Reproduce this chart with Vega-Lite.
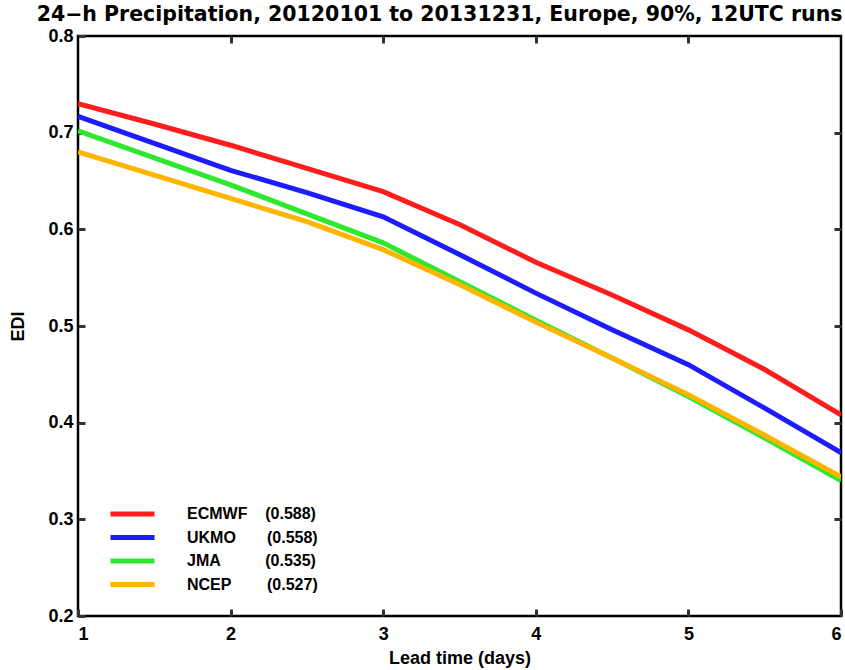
{
  "$schema": "https://vega.github.io/schema/vega-lite/v6.json",
  "autosize": "none",
  "width": 763,
  "height": 580,
  "padding": {"left": 78, "top": 36, "right": 4, "bottom": 54},
  "background": "white",
  "title": {"text": "24\u2212h Precipitation, 20120101 to 20131231, Europe, 90%, 12UTC runs", "anchor": "end", "font": "DejaVu Sans", "fontSize": 20.5, "fontWeight": "bold", "offset": 8, "dy": 6, "color": "black"},
  "config": {
    "view": {"stroke": "black", "strokeWidth": 2.5},
    "axis": {"labelFont": "Liberation Sans", "labelFontWeight": "bold", "labelFontSize": 18, "labelColor": "black", "titleFont": "Liberation Sans", "titleFontWeight": "bold", "titleFontSize": 18, "titleColor": "black", "domain": false, "grid": false, "ticks": true, "tickColor": "#333333", "tickWidth": 3, "tickSize": 7, "offset": -7}
  },
  "resolve": {"axis": {"x": "independent", "y": "independent"}},
  "data": {"values": [
    {"model": "ECMWF", "day": 1, "edi": 0.730},
    {"model": "ECMWF", "day": 1.5, "edi": 0.709},
    {"model": "ECMWF", "day": 2, "edi": 0.687},
    {"model": "ECMWF", "day": 2.5, "edi": 0.663},
    {"model": "ECMWF", "day": 3, "edi": 0.639},
    {"model": "ECMWF", "day": 3.5, "edi": 0.605},
    {"model": "ECMWF", "day": 4, "edi": 0.566},
    {"model": "ECMWF", "day": 4.5, "edi": 0.532},
    {"model": "ECMWF", "day": 5, "edi": 0.496},
    {"model": "ECMWF", "day": 5.5, "edi": 0.455},
    {"model": "ECMWF", "day": 6, "edi": 0.408},
    {"model": "UKMO", "day": 1, "edi": 0.717},
    {"model": "UKMO", "day": 1.5, "edi": 0.689},
    {"model": "UKMO", "day": 2, "edi": 0.661},
    {"model": "UKMO", "day": 2.5, "edi": 0.638},
    {"model": "UKMO", "day": 3, "edi": 0.613},
    {"model": "UKMO", "day": 3.5, "edi": 0.574},
    {"model": "UKMO", "day": 4, "edi": 0.534},
    {"model": "UKMO", "day": 4.5, "edi": 0.496},
    {"model": "UKMO", "day": 5, "edi": 0.460},
    {"model": "UKMO", "day": 5.5, "edi": 0.415},
    {"model": "UKMO", "day": 6, "edi": 0.369},
    {"model": "JMA", "day": 1, "edi": 0.702},
    {"model": "JMA", "day": 1.5, "edi": 0.674},
    {"model": "JMA", "day": 2, "edi": 0.646},
    {"model": "JMA", "day": 2.5, "edi": 0.616},
    {"model": "JMA", "day": 3, "edi": 0.586},
    {"model": "JMA", "day": 3.5, "edi": 0.546},
    {"model": "JMA", "day": 4, "edi": 0.506},
    {"model": "JMA", "day": 4.5, "edi": 0.467},
    {"model": "JMA", "day": 5, "edi": 0.427},
    {"model": "JMA", "day": 5.5, "edi": 0.384},
    {"model": "JMA", "day": 6, "edi": 0.340},
    {"model": "NCEP", "day": 1, "edi": 0.680},
    {"model": "NCEP", "day": 1.5, "edi": 0.656},
    {"model": "NCEP", "day": 2, "edi": 0.632},
    {"model": "NCEP", "day": 2.5, "edi": 0.608},
    {"model": "NCEP", "day": 3, "edi": 0.579},
    {"model": "NCEP", "day": 3.5, "edi": 0.543},
    {"model": "NCEP", "day": 4, "edi": 0.504},
    {"model": "NCEP", "day": 4.5, "edi": 0.467},
    {"model": "NCEP", "day": 5, "edi": 0.429},
    {"model": "NCEP", "day": 5.5, "edi": 0.387},
    {"model": "NCEP", "day": 6, "edi": 0.344}
  ]},
  "layer": [
    {
      "mark": {"type": "line", "strokeWidth": 5, "clip": true},
      "encoding": {
        "x": {"field": "day", "type": "quantitative", "scale": {"domain": [1, 6], "nice": false, "zero": false}, "axis": {"orient": "bottom", "values": [1, 2, 3, 4, 5, 6], "title": "Lead time (days)", "labelPadding": 9, "titlePadding": 6, "format": "d"}},
        "y": {"field": "edi", "type": "quantitative", "scale": {"domain": [0.2, 0.8], "nice": false, "zero": false}, "axis": {"orient": "left", "values": [0.2, 0.3, 0.4, 0.5, 0.6, 0.7, 0.8], "format": ".1f", "title": "EDI", "labelPadding": 5, "titlePadding": 20}},
        "color": {"field": "model", "type": "nominal",
          "scale": {"domain": ["ECMWF", "UKMO", "JMA", "NCEP"], "range": ["#ff1c1c", "#1c1cff", "#2ee82e", "#ffb400"]},
          "legend": {"orient": "none", "legendX": 30, "legendY": 468, "title": null, "symbolType": "stroke", "symbolSize": 1936, "symbolStrokeWidth": 5, "clipHeight": 20, "rowPadding": 3.5, "labelFont": "Liberation Sans", "labelFontWeight": "bold", "labelFontSize": 16, "labelColor": "black", "labelOffset": 30, "labelLimit": 300,
            "labelExpr": "datum.value == 'ECMWF' ? 'ECMWF\u00a0\u00a0\u00a0\u00a0(0.588)' : datum.value == 'UKMO' ? 'UKMO\u00a0\u00a0\u00a0\u00a0\u00a0\u00a0\u00a0(0.558)' : datum.value == 'JMA' ? 'JMA\u00a0\u00a0\u00a0\u00a0\u00a0\u00a0\u00a0\u00a0\u00a0\u00a0(0.535)' : 'NCEP\u00a0\u00a0\u00a0\u00a0\u00a0\u00a0\u00a0\u00a0(0.527)'"}
        }
      }
    },
    {
      "mark": {"type": "line", "opacity": 0},
      "encoding": {
        "x": {"field": "day", "type": "quantitative", "axis": {"orient": "top", "values": [2, 3, 4, 5], "labels": false, "title": null}},
        "y": {"field": "edi", "type": "quantitative", "axis": {"orient": "right", "values": [0.3, 0.4, 0.5, 0.6, 0.7], "labels": false, "title": null}},
        "detail": {"field": "model", "type": "nominal"}
      }
    }
  ]
}
